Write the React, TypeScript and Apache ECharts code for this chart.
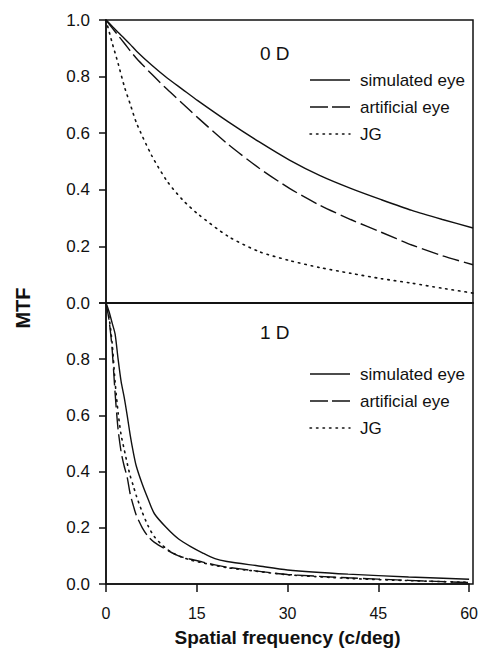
import React, { useEffect, useRef } from "react";
import * as echarts from "echarts";

// ---- Data ----
const xTicks = [0, 15, 30, 45, 60];
const seriesNames = ["simulated eye", "artificial eye", "JG"];

// Top panel: 0 D
const topFreq = [0, 1, 2, 3, 4, 5, 7.5, 10, 12.5, 15, 20, 25, 30, 35, 40, 45, 50, 55, 60];
const topSimulated = [1.0, 0.978, 0.956, 0.935, 0.913, 0.89, 0.84, 0.795, 0.755, 0.715, 0.64, 0.57, 0.505, 0.45, 0.405, 0.365, 0.327, 0.295, 0.265];
const topArtificial = [1.0, 0.972, 0.945, 0.918, 0.89, 0.864, 0.808, 0.755, 0.705, 0.655, 0.56, 0.477, 0.405, 0.345, 0.295, 0.25, 0.205, 0.167, 0.135];
const topJG = [1.0, 0.92, 0.845, 0.765, 0.7, 0.635, 0.52, 0.43, 0.365, 0.315, 0.235, 0.182, 0.15, 0.125, 0.105, 0.086, 0.07, 0.052, 0.035];

// Bottom panel: 1 D
const botFreq = [0, 0.5, 1, 1.5, 2, 2.5, 3, 3.5, 4, 4.5, 5, 6, 7, 8, 10, 12, 14, 16, 18, 20, 25, 30, 40, 50, 60];
const botSimulated = [1.0, 0.97, 0.93, 0.89, 0.8, 0.72, 0.665, 0.6, 0.53, 0.47, 0.42, 0.355, 0.3, 0.25, 0.2, 0.16, 0.133, 0.11, 0.09, 0.08, 0.065, 0.05, 0.035, 0.025, 0.017];
const botArtificial = [1.0, 0.94, 0.84, 0.68, 0.55, 0.47, 0.42, 0.38, 0.32, 0.28, 0.245, 0.2, 0.168, 0.148, 0.122, 0.1, 0.088, 0.078, 0.068, 0.06, 0.046, 0.034, 0.022, 0.013, 0.005];
const botJG = [1.0, 0.95, 0.86, 0.72, 0.61, 0.53, 0.48, 0.43, 0.385, 0.35, 0.315, 0.255, 0.205, 0.168, 0.125, 0.1, 0.085, 0.075, 0.066, 0.058, 0.045, 0.033, 0.02, 0.012, 0.006];

const panelLabels = ["0 D", "1 D"];

const INK = "#111";
const FONT = "'Liberation Sans', Arial, Helvetica, sans-serif";

const zip = (xs: number[], ys: number[]) => xs.map((x, i) => [x, ys[i]]);

const styleFor = (i: number) => {
  if (i === 0) return { color: INK, width: 1.4, type: "solid" as any };
  if (i === 1) return { color: INK, width: 1.4, type: [17, 5] as any };
  return { color: INK, width: 1.6, type: [1.5, 5] as any, cap: "round" as any };
};

export default function App() {
  const ref = useRef<HTMLDivElement>(null);
  useEffect(() => {
    if (!ref.current) return;
    const chart = echarts.init(ref.current, undefined, { renderer: "svg" });

    const L = 106, W = 367;
    const grids = [
      { left: L, top: 20, width: W, height: 283 },
      { left: L, top: 303, width: W, height: 281 },
    ];

    const axisLineStyle = { color: INK, width: 1.5 };

    const xAxis = grids.map((_, gi) => ({
      gridIndex: gi,
      type: "value",
      min: 0,
      max: 60,
      interval: 15,
      axisLine: { show: true, onZero: false, lineStyle: axisLineStyle },
      axisTick: { show: gi === 1, length: 8, inside: false, lineStyle: axisLineStyle },
      axisLabel: {
        show: gi === 1,
        fontSize: 16,
        color: INK,
        fontFamily: FONT,
        margin: 21,
        formatter: (v: number) => (xTicks.includes(v) ? String(v) : ""),
      },
      splitLine: { show: false },
      name: gi === 1 ? "Spatial frequency (c/deg)" : "",
      nameLocation: "middle",
      nameGap: 44,
      nameTextStyle: { fontSize: 19, fontWeight: "bold", color: INK, fontFamily: FONT },
    }));

    const yAxis = grids.map((_, gi) => ({
      gridIndex: gi,
      type: "value",
      min: 0,
      max: 1,
      interval: 0.2,
      axisLine: { show: true, onZero: false, lineStyle: axisLineStyle },
      axisTick: { show: true, length: 7, inside: false, lineStyle: axisLineStyle },
      axisLabel: {
        fontSize: 17,
        color: INK,
        fontFamily: FONT,
        margin: 16,
        formatter: (v: number) => (gi === 1 && v > 0.95 ? "" : v.toFixed(1)),
      },
      splitLine: { show: false },
    }));

    const panels = [
      [topSimulated, topArtificial, topJG],
      [botSimulated, botArtificial, botJG],
    ];
    const freqs = [topFreq, botFreq];

    const series: any[] = [];
    panels.forEach((vals, gi) => {
      vals.forEach((ys, si) => {
        series.push({
          type: "line",
          name: seriesNames[si],
          xAxisIndex: gi,
          yAxisIndex: gi,
          data: zip(freqs[gi], ys),
          symbol: "none",
          smooth: 0.25,
          lineStyle: styleFor(si),
          clip: true,
          z: 3,
        });
      });
    });

    const frames = grids.map((g) => ({
      type: "rect",
      shape: { x: g.left, y: g.top, width: g.width, height: g.height },
      style: { fill: "transparent", stroke: INK, lineWidth: 1.5 },
      z: 1,
      silent: true,
    }));

    const legendRows = [
      [80, 107, 134],
      [374, 401, 428],
    ];
    const legendDash: any[] = [null, [18, 4], [1.5, 5]];
    const legendEls: any[] = [];
    legendRows.forEach((rows) => {
      rows.forEach((y, i) => {
        legendEls.push({
          type: "line",
          shape: { x1: 310, y1: y, x2: 350, y2: y },
          style: {
            stroke: INK,
            lineWidth: i === 2 ? 1.5 : 1.3,
            lineDash: legendDash[i],
            lineCap: i === 2 ? "round" : "butt",
          },
          silent: true,
        });
        legendEls.push({
          type: "text",
          x: 360,
          y: y,
          style: {
            text: seriesNames[i],
            fill: INK,
            font: `17px ${FONT}`,
            textAlign: "left",
            textVerticalAlign: "middle",
          },
          silent: true,
        });
      });
    });

    const panelTexts = panelLabels.map((t, i) => ({
      type: "text",
      x: 260,
      y: i === 0 ? 53 : 332,
      style: {
        text: t,
        fill: INK,
        font: `19px ${FONT}`,
        textAlign: "left",
        textVerticalAlign: "middle",
      },
      silent: true,
    }));

    const mtf = {
      type: "text",
      x: 23,
      y: 308,
      rotation: Math.PI / 2,
      style: {
        text: "MTF",
        fill: INK,
        font: `bold 20px ${FONT}`,
        textAlign: "center",
        textVerticalAlign: "middle",
      },
      silent: true,
    };

    chart.setOption({
      animation: false,
      backgroundColor: "#fff",
      grid: grids,
      xAxis,
      yAxis,
      series,
      graphic: [...frames, ...legendEls, ...panelTexts, mtf],
    });

    return () => chart.dispose();
  }, []);

  return (
    <div
      ref={ref}
      style={{ position: "fixed", left: 0, top: 0, width: 481, height: 658, background: "#fff" }}
    />
  );
}
